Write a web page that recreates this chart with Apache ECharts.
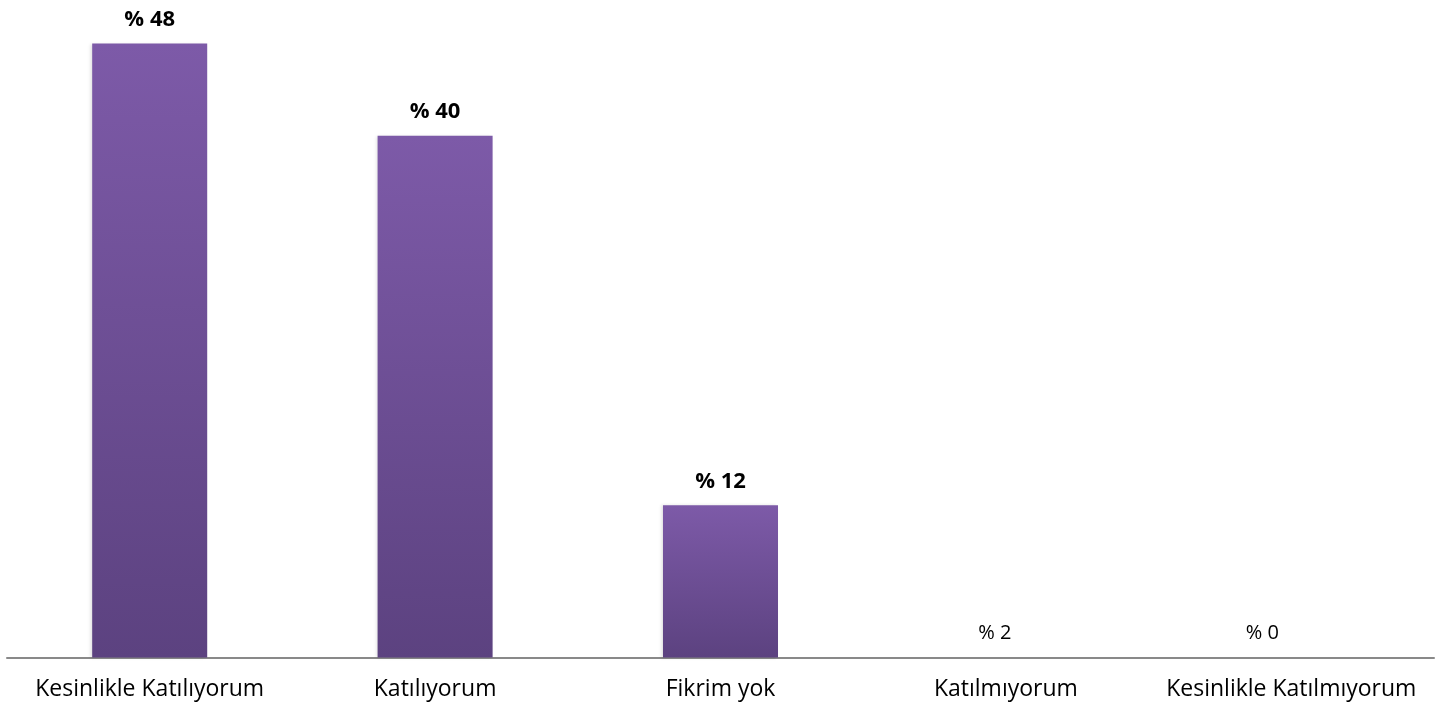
<!DOCTYPE html>
<html>
<head>
<meta charset="utf-8">
<script src="https://cdn.jsdelivr.net/npm/echarts@6/dist/echarts.min.js"></script>
<style>
html,body{margin:0;padding:0;background:#fff;}
#c{width:1451px;height:713px;}
</style>
</head>
<body>
<div id="c"></div>
<script>
const categories = ['Kesinlikle Katılıyorum', 'Katılıyorum', 'Fikrim yok', 'Katılmıyorum', 'Kesinlikle Katılmıyorum'];
const values = [48, 40.8, 11.9, 0, 0];
const labelTexts = ['% 48', '% 40', '% 12', '% 2', '% 0'];

const chart = echarts.init(document.getElementById('c'));
const fontFam = '"Open Sans", "DejaVu Sans", sans-serif';

const data = values.map(function (v, i) {
  const item = { value: v };
  if (v === 0) {
    item.label = {
      fontWeight: 'normal',
      fontSize: 20,
      distance: 14,
      offset: [i === 3 ? -11 : -29, 0]
    };
  }
  return item;
});

chart.setOption({
  animation: false,
  backgroundColor: '#ffffff',
  grid: { left: 7, right: 17, top: 18, bottom: 55.5, containLabel: false },
  xAxis: {
    type: 'category',
    data: categories,
    axisLine: { show: true, lineStyle: { color: '#898989', width: 2 } },
    axisTick: { show: false },
    axisLabel: { color: '#000', fontFamily: fontFam, fontSize: 23, margin: 20, interval: 0, hideOverlap: false }
  },
  yAxis: {
    type: 'value',
    min: 0,
    max: 50,
    show: false,
    splitLine: { show: false }
  },
  series: [{
    type: 'bar',
    data: data,
    barWidth: '40.3%',
    itemStyle: {
      color: new echarts.graphic.LinearGradient(0, 0, 0, 1, [
        { offset: 0, color: '#7D5AA8' },
        { offset: 1, color: '#5C4280' }
      ]),
      shadowColor: 'rgba(0,0,0,0.12)',
      shadowBlur: 3,
      shadowOffsetX: -2
    },
    label: {
      show: true,
      position: 'top',
      distance: 13,
      color: '#000',
      fontFamily: fontFam,
      fontSize: 22,
      fontWeight: 'bold',
      formatter: function (p) { return labelTexts[p.dataIndex]; }
    }
  }]
});
</script>
</body>
</html>
